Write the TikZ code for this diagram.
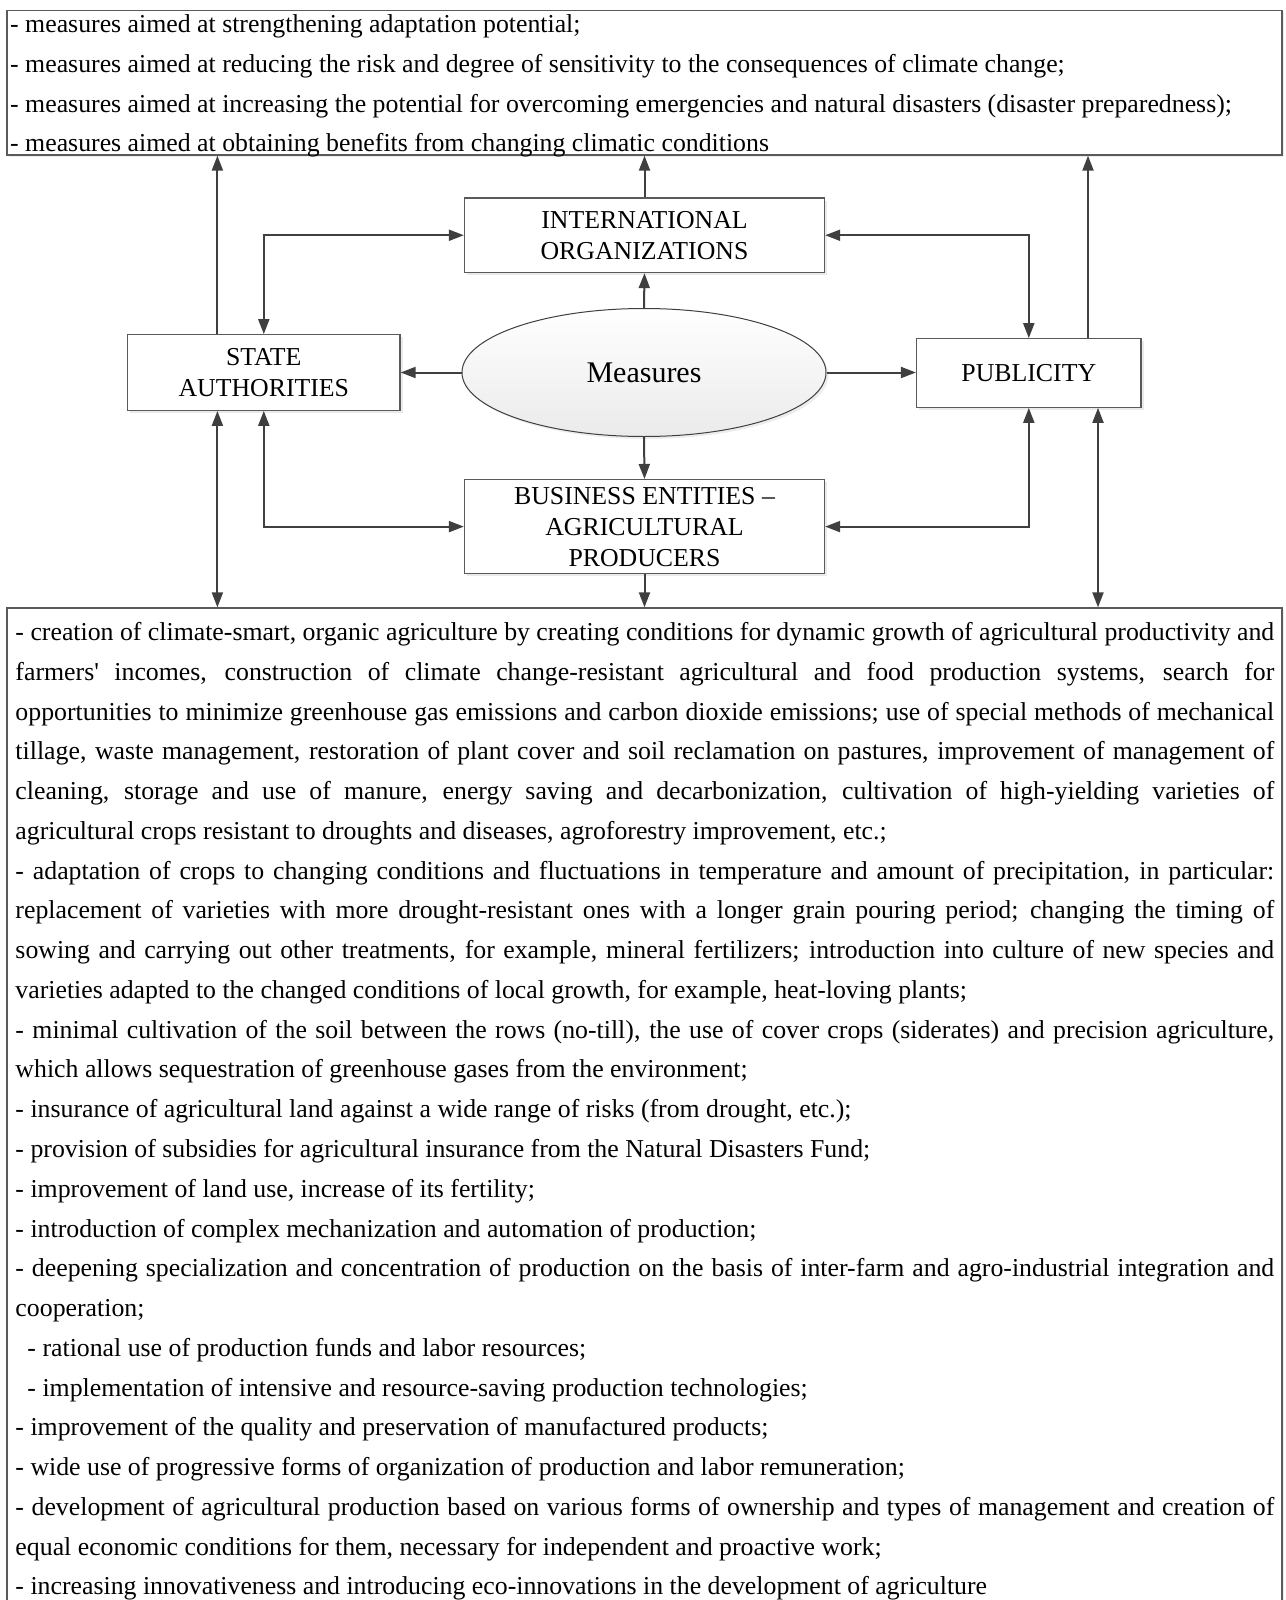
\documentclass[tikz,border=0pt]{standalone}
\usepackage{fontspec}
\setmainfont{Liberation Serif}[Ligatures=TeXOff]
\usetikzlibrary{arrows.meta,shadows,shapes.geometric}

\definecolor{boxline}{HTML}{5A5A5A}
\definecolor{arrowline}{HTML}{3F3F3F}

% one justified line / one ragged line of a list
\newcommand\jline[1]{\makebox[\linewidth][s]{#1}\par}
\newcommand\pline[1]{#1\par}

\begin{document}
\begin{tikzpicture}[x=1bp,y=-1bp,
  frame/.style={draw=boxline, line width=1.3bp, fill=white,
    drop shadow={shadow xshift=2.5bp, shadow yshift=-2.5bp, fill=black!16},
    inner sep=0pt, align=center, font=\fontsize{25.8bp}{31bp}\selectfont},
  listbox/.style={draw=boxline, line width=1.3bp, fill=white,
    drop shadow={shadow xshift=2bp, shadow yshift=-2bp, fill=black!14},
    inner sep=0pt},
  items/.style={anchor=base west, inner sep=0pt},
  arr/.style={draw=arrowline, line width=2bp, -{Triangle[length=15bp,width=11bp]}},
  biarr/.style={draw=arrowline, line width=2bp,
    {Triangle[length=15bp,width=11bp]}-{Triangle[length=15bp,width=11bp]}}]

\clip (0,0) rectangle (1285,1600);

% outer list boxes
\node[listbox, minimum width=1275bp, minimum height=144.5bp] (topbox) at (644.5,82.75) {};
\node[listbox, minimum width=1275bp, minimum height=996bp] (bottombox) at (644.5,1106) {};

% actors
\node[frame, minimum width=360bp, minimum height=74.5bp] (intl) at (644.5,235.25) {INTERNATIONAL\\ORGANIZATIONS};
\node[frame, minimum width=272.4bp, minimum height=75.5bp] (state) at (263.8,372.5) {STATE\\AUTHORITIES};
\node[frame, minimum width=224.5bp, minimum height=68.4bp] (pub) at (1028.8,373) {PUBLICITY};
\node[frame, minimum width=360bp, minimum height=94bp] (bus) at (644.5,526.6) {BUSINESS ENTITIES –\\AGRICULTURAL\\PRODUCERS};
\node[ellipse, draw=arrowline, line width=1bp, minimum width=364bp, minimum height=128bp,
  inner sep=0pt, top color=white, bottom color=black!8,
  drop shadow={shadow xshift=2.5bp, shadow yshift=-2.5bp, fill=black!14},
  font=\fontsize{30bp}{36bp}\selectfont] (meas) at (644,372.5) {Measures};

% vertical lanes
\coordinate (xL) at (217.4,0);
\coordinate (xPT) at (1088,0);
\coordinate (xPB) at (1098,0);

% connectors
\draw[arr] (xL |- state.north) -- (xL |- topbox.south);
\draw[arr] (intl.north) -- (intl.north |- topbox.south);
\draw[arr] (xPT |- pub.north) -- (xPT |- topbox.south);
\draw[arr] (meas.north) -- (intl.south);
\draw[biarr] (intl.west) -| (state.north);
\draw[biarr] (intl.east) -| (pub.north);
\draw[arr] (meas.west) -- (meas.west -| state.east);
\draw[arr] (meas.east) -- (meas.east -| pub.west);
\draw[arr] (meas.south) -- (bus.north);
\draw[biarr] (bus.west) -| (state.south);
\draw[biarr] (bus.east) -| (pub.south);
\draw[arr] (bus.south) -- (bus.south |- bottombox.north);
\draw[biarr] (xL |- state.south) -- (xL |- bottombox.north);
\draw[biarr] (xPB |- pub.south) -- (xPB |- bottombox.north);

% list of measure groups
\node[items] (topitems) at (10,32.5) {\parbox[t]{1265bp}{\fontsize{25.8bp}{39.76bp}\selectfont\parindent=0pt
\pline{- measures aimed at strengthening adaptation potential;}
\pline{- measures aimed at reducing the risk and degree of sensitivity to the consequences of climate change;}
\pline{- measures aimed at increasing the potential for overcoming emergencies and natural disasters (disaster preparedness);}
\pline{- measures aimed at obtaining benefits from changing climatic conditions}}};

% list of concrete measures
\node[items] (bottomitems) at (15.3,640.6) {\parbox[t]{1258.7bp}{\fontsize{25.8bp}{39.76bp}\selectfont\parindent=0pt
\jline{- creation of climate-smart, organic agriculture by creating conditions for dynamic growth of agricultural productivity and}
\jline{farmers' incomes, construction of climate change-resistant agricultural and food production systems, search for}
\jline{opportunities to minimize greenhouse gas emissions and carbon dioxide emissions; use of special methods of mechanical}
\jline{tillage, waste management, restoration of plant cover and soil reclamation on pastures, improvement of management of}
\jline{cleaning, storage and use of manure, energy saving and decarbonization, cultivation of high-yielding varieties of}
\pline{agricultural crops resistant to droughts and diseases, agroforestry improvement, etc.;}
\jline{- adaptation of crops to changing conditions and fluctuations in temperature and amount of precipitation, in particular:}
\jline{replacement of varieties with more drought-resistant ones with a longer grain pouring period; changing the timing of}
\jline{sowing and carrying out other treatments, for example, mineral fertilizers; introduction into culture of new species and}
\pline{varieties adapted to the changed conditions of local growth, for example, heat-loving plants;}
\jline{- minimal cultivation of the soil between the rows (no-till), the use of cover crops (siderates) and precision agriculture,}
\pline{which allows sequestration of greenhouse gases from the environment;}
\pline{- insurance of agricultural land against a wide range of risks (from drought, etc.);}
\pline{- provision of subsidies for agricultural insurance from the Natural Disasters Fund;}
\pline{- improvement of land use, increase of its fertility;}
\pline{- introduction of complex mechanization and automation of production;}
\jline{- deepening specialization and concentration of production on the basis of inter-farm and agro-industrial integration and}
\pline{cooperation;}
\pline{\hspace*{12bp}- rational use of production funds and labor resources;}
\pline{\hspace*{12bp}- implementation of intensive and resource-saving production technologies;}
\pline{- improvement of the quality and preservation of manufactured products;}
\pline{- wide use of progressive forms of organization of production and labor remuneration;}
\jline{- development of agricultural production based on various forms of ownership and types of management and creation of}
\pline{equal economic conditions for them, necessary for independent and proactive work;}
\pline{- increasing innovativeness and introducing eco-innovations in the development of agriculture}}};
\end{tikzpicture}
\end{document}
